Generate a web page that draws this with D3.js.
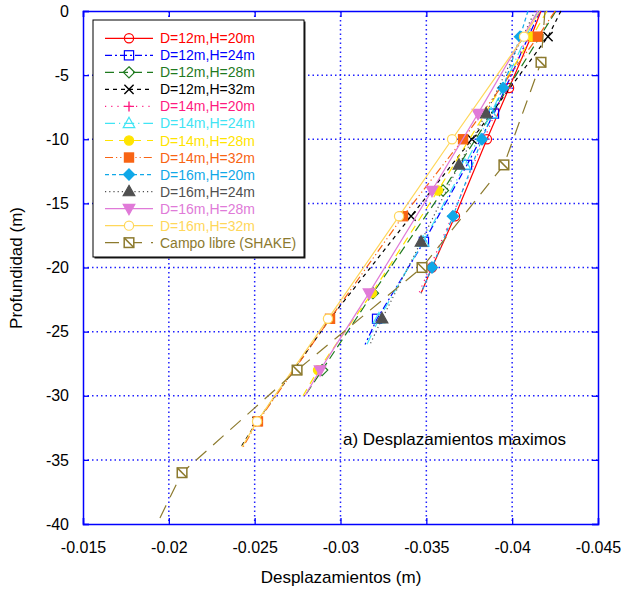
<!DOCTYPE html>
<html><head><meta charset="utf-8">
<script src="https://cdn.jsdelivr.net/npm/d3@7"></script>
<style>body{margin:0;background:#fff}svg{display:block;font-family:"Liberation Sans",Arial,sans-serif}</style>
</head><body><svg id="c" width="625" height="592"></svg>
<script>
// ---------- data ----------
const xTicks = [-0.015,-0.02,-0.025,-0.03,-0.035,-0.04,-0.045];
const xTickLabels = ["-0.015","-0.02","-0.025","-0.03","-0.035","-0.04","-0.045"];
const yTicks = [0,-5,-10,-15,-20,-25,-30,-35,-40];
const yTickLabels = ["0","-5","-10","-15","-20","-25","-30","-35","-40"];

const seriesNames = ["D=12m,H=20m","D=12m,H=24m","D=12m,H=28m","D=12m,H=32m","D=14m,H=20m","D=14m,H=24m","D=14m,H=28m","D=14m,H=32m","D=16m,H=20m","D=16m,H=24m","D=16m,H=28m","D=16m,H=32m","Campo libre (SHAKE)"];

const depth_D12H20 = [0,-2,-6,-10,-16,-20,-22];
const disp_D12H20  = [-0.04168,-0.04110,-0.03982,-0.03853,-0.03667,-0.03533,-0.03469];
const mark_D12H20  = [-2,-6,-10,-16,-20];

const depth_D12H24 = [0,-8,-12,-18,-24,-26];
const disp_D12H24  = [-0.04162,-0.03894,-0.03737,-0.03486,-0.03213,-0.03143];
const mark_D12H24  = [-8,-12,-18,-24];

const depth_D12H28 = [0,-6,-14,-22,-28,-30];
const disp_D12H28  = [-0.04255,-0.03976,-0.03597,-0.03189,-0.02893,-0.02793];
const mark_D12H28  = [-14,-22,-28];

const depth_D12H32 = [0,-2,-10,-16,-24,-32,-34];
const disp_D12H32  = [-0.04284,-0.04209,-0.03766,-0.03411,-0.02939,-0.02514,-0.02420];
const mark_D12H32  = [-2,-10,-16,-24,-32];

const depth_D14H20 = [0,-2,-6,-10,-16,-20,-22];
const disp_D14H20  = [-0.04145,-0.04086,-0.03964,-0.03836,-0.03650,-0.03521,-0.03457];
const mark_D14H20  = [-2,-6,-10,-16,-20];

const depth_D14H24 = [0,-8,-12,-18,-24,-26];
const disp_D14H24  = [-0.04150,-0.03877,-0.03725,-0.03481,-0.03224,-0.03154];
const mark_D14H24  = [-8,-12,-18,-24];

const depth_D14H28 = [0,-2,-14,-22,-28,-30];
const disp_D14H28  = [-0.04203,-0.04116,-0.03568,-0.03183,-0.02869,-0.02782];
const mark_D14H28  = [-2,-14,-22,-28];

const depth_D14H32 = [0,-2,-10,-16,-24,-32,-34];
const disp_D14H32  = [-0.04250,-0.04150,-0.03714,-0.03364,-0.02939,-0.02519,-0.02432];
const mark_D14H32  = [-2,-10,-16,-24,-32];

const depth_D16H20 = [0,-2,-6,-10,-16,-20,-22];
const disp_D16H20  = [-0.04092,-0.04046,-0.03947,-0.03824,-0.03655,-0.03533,-0.03469];
const mark_D16H20  = [-2,-6,-10,-16,-20];

const depth_D16H24 = [0,-8,-12,-18,-24,-26];
const disp_D16H24  = [-0.04133,-0.03848,-0.03690,-0.03469,-0.03242,-0.03172];
const mark_D16H24  = [-8,-12,-18,-24];

const depth_D16H28 = [0,-8,-14,-22,-28,-30];
const disp_D16H28  = [-0.04150,-0.03801,-0.03533,-0.03166,-0.02881,-0.02793];
const mark_D16H28  = [-8,-14,-22,-28];

const depth_D16H32 = [0,-2,-10,-16,-24,-32,-34];
const disp_D16H32  = [-0.04162,-0.04069,-0.03650,-0.03341,-0.02927,-0.02514,-0.02426];
const mark_D16H32  = [-2,-10,-16,-24,-32];

const depth_SHAKE = [0,-4,-12,-20,-28,-36,-40];
const disp_SHAKE  = [-0.04191,-0.04168,-0.03952,-0.03475,-0.02747,-0.02077,-0.01931];
const mark_SHAKE  = [-4,-12,-20,-28,-36];

// ---------- styles ----------
const styles = [
  {color:"#ff0000", dash:null,            marker:"circle",  fill:"none"},
  {color:"#0000ff", dash:"7,3,2,3",       marker:"square",  fill:"none"},
  {color:"#1f7a1f", dash:"9,5",           marker:"diamond", fill:"none"},
  {color:"#000000", dash:"4,4",           marker:"x",       fill:"none"},
  {color:"#ff1a80", dash:"1.2,5",         marker:"plus",    fill:"none"},
  {color:"#40e4f4", dash:"10,4,1.2,4",    marker:"triUp",   fill:"none"},
  {color:"#ffe400", dash:"8,6",           marker:"circle",  fill:"#ffe400"},
  {color:"#f86414", dash:"8,3,1.2,3,1.2,3", marker:"square", fill:"#f86414"},
  {color:"#10a8e8", dash:"4,3",           marker:"diamond", fill:"#10a8e8"},
  {color:"#505050", dash:"1.2,3",         marker:"triUp",   fill:"#505050"},
  {color:"#e07ad8", dash:null,            marker:"triDown", fill:"#e07ad8"},
  {color:"#ffd75a", dash:null,            marker:"circle",  fill:"#ffffff"},
  {color:"#8c7a2e", dash:"14,9",          marker:"sqdiag",  fill:"none"}
];
const depthArrs = [depth_D12H20,depth_D12H24,depth_D12H28,depth_D12H32,depth_D14H20,depth_D14H24,depth_D14H28,depth_D14H32,depth_D16H20,depth_D16H24,depth_D16H28,depth_D16H32,depth_SHAKE];
const dispArrs  = [disp_D12H20,disp_D12H24,disp_D12H28,disp_D12H32,disp_D14H20,disp_D14H24,disp_D14H28,disp_D14H32,disp_D16H20,disp_D16H24,disp_D16H28,disp_D16H32,disp_SHAKE];
const markArrs  = [mark_D12H20,mark_D12H24,mark_D12H28,mark_D12H32,mark_D14H20,mark_D14H24,mark_D14H28,mark_D14H32,mark_D16H20,mark_D16H24,mark_D16H28,mark_D16H32,mark_SHAKE];

// ---------- layout ----------
const L = 83, R = 598, T = 11, B = 524;
const x = d3.scaleLinear().domain([-0.015,-0.045]).range([L,R]);
const y = d3.scaleLinear().domain([0,-40]).range([T,B]);
const svg = d3.select("#c");
const frameColor = "#0000ff";

// grid
const grid = svg.append("g");
xTicks.slice(1,-1).forEach(t=>{
  grid.append("line").attr("x1",x(t)).attr("x2",x(t)).attr("y1",T).attr("y2",B)
    .attr("stroke","#2020ff").attr("stroke-width",1.5).attr("stroke-dasharray","1.5,3");
});
yTicks.slice(1,-1).forEach(t=>{
  grid.append("line").attr("y1",y(t)).attr("y2",y(t)).attr("x1",L).attr("x2",R)
    .attr("stroke","#2020ff").attr("stroke-width",1.5).attr("stroke-dasharray","1.5,3");
});

// axes via d3
const xAxisB = d3.axisBottom(x).tickValues(xTicks).tickFormat((d,i)=>xTickLabels[i]).tickSize(-6).tickPadding(18);
const gx = svg.append("g").attr("transform",`translate(0,${B})`).call(xAxisB);
gx.select(".domain").attr("stroke",frameColor).attr("stroke-width",1.5);
gx.selectAll(".tick line").attr("stroke",frameColor).attr("stroke-width",1.3);
gx.selectAll(".tick text").attr("font-size",16).attr("fill","#000").attr("font-family","Liberation Sans, Arial, sans-serif");

const xAxisT = d3.axisTop(x).tickValues(xTicks).tickFormat("").tickSize(-6);
const gxt = svg.append("g").attr("transform",`translate(0,${T})`).call(xAxisT);
gxt.select(".domain").attr("stroke",frameColor).attr("stroke-width",1.5);
gxt.selectAll(".tick line").attr("stroke",frameColor).attr("stroke-width",1.3);

const yAxisL = d3.axisLeft(y).tickValues(yTicks).tickFormat((d,i)=>yTickLabels[i]).tickSize(-6).tickPadding(14);
const gy = svg.append("g").attr("transform",`translate(${L},0)`).call(yAxisL);
gy.select(".domain").attr("stroke",frameColor).attr("stroke-width",1.5);
gy.selectAll(".tick line").attr("stroke",frameColor).attr("stroke-width",1.3);
gy.selectAll(".tick text").attr("font-size",16).attr("fill","#000").attr("font-family","Liberation Sans, Arial, sans-serif");

const yAxisR = d3.axisRight(y).tickValues(yTicks).tickFormat("").tickSize(-6);
const gyr = svg.append("g").attr("transform",`translate(${R},0)`).call(yAxisR);
gyr.select(".domain").attr("stroke",frameColor).attr("stroke-width",1.5);
gyr.selectAll(".tick line").attr("stroke",frameColor).attr("stroke-width",1.3);

// titles
svg.append("text").attr("x",341).attr("y",583).attr("text-anchor","middle").attr("font-size",17).text("Desplazamientos (m)");
svg.append("text").attr("transform","translate(22,268) rotate(-90)").attr("text-anchor","middle").attr("font-size",17).text("Profundidad (m)");
svg.append("text").attr("x",343).attr("y",445).attr("font-size",17).text("a) Desplazamientos maximos");

// marker drawer
function drawMarker(g, type, cx, cy, color, fill){
  const sw = 1.2;
  if(type==="circle"){
    g.append("circle").attr("cx",cx).attr("cy",cy).attr("r",4.6).attr("fill",fill).attr("stroke",color).attr("stroke-width",sw);
  } else if(type==="square"){
    g.append("rect").attr("x",cx-4.6).attr("y",cy-4.6).attr("width",9.2).attr("height",9.2).attr("fill",fill).attr("stroke",color).attr("stroke-width",sw);
  } else if(type==="diamond"){
    g.append("path").attr("d",`M${cx},${cy-5.6}L${cx+5.6},${cy}L${cx},${cy+5.6}L${cx-5.6},${cy}Z`).attr("fill",fill).attr("stroke",color).attr("stroke-width",sw);
  } else if(type==="x"){
    g.append("path").attr("d",`M${cx-4.6},${cy-4.6}L${cx+4.6},${cy+4.6}M${cx-4.6},${cy+4.6}L${cx+4.6},${cy-4.6}`).attr("stroke",color).attr("stroke-width",1.4).attr("fill","none");
  } else if(type==="plus"){
    g.append("path").attr("d",`M${cx-5},${cy}L${cx+5},${cy}M${cx},${cy-5}L${cx},${cy+5}`).attr("stroke",color).attr("stroke-width",1.4).attr("fill","none");
  } else if(type==="triUp"){
    g.append("path").attr("d",`M${cx},${cy-6.2}L${cx+5.8},${cy+4.2}L${cx-5.8},${cy+4.2}Z`).attr("fill",fill).attr("stroke",color).attr("stroke-width",sw);
  } else if(type==="triDown"){
    g.append("path").attr("d",`M${cx},${cy+6.2}L${cx+5.8},${cy-4.2}L${cx-5.8},${cy-4.2}Z`).attr("fill",fill).attr("stroke",color).attr("stroke-width",sw);
  } else if(type==="sqdiag"){
    g.append("rect").attr("x",cx-4.8).attr("y",cy-4.8).attr("width",9.6).attr("height",9.6).attr("fill","#fff").attr("stroke",color).attr("stroke-width",1.5);
    g.append("line").attr("x1",cx-4.8).attr("y1",cy-4.8).attr("x2",cx+4.8).attr("y2",cy+4.8).attr("stroke",color).attr("stroke-width",1.5);
  }
}

// series
const plotG = svg.append("g");
const line = d3.line().x(d=>x(d.v)).y(d=>y(d.d));
seriesNames.forEach((name,i)=>{
  const st = styles[i];
  const pts = depthArrs[i].map((d,j)=>({d:d, v:dispArrs[i][j]}));
  const g = plotG.append("g");
  g.append("path").datum(pts).attr("d",line).attr("fill","none").attr("stroke",st.color)
    .attr("stroke-width",1.2).attr("stroke-dasharray",st.dash);
  markArrs[i].forEach(md=>{
    const p = pts.find(q=>q.d===md);
    if(p) drawMarker(g, st.marker, x(p.v), y(p.d), st.color, st.fill);
  });
});

// legend
const lg = svg.append("g");
const lx0 = 93, ly0 = 20, lw = 211, lh = 237;
lg.append("rect").attr("x",lx0+1.5).attr("y",ly0+1.5).attr("width",lw).attr("height",lh).attr("fill","#222");
lg.append("rect").attr("x",lx0).attr("y",ly0).attr("width",lw).attr("height",lh).attr("fill","#fff").attr("stroke","#000").attr("stroke-width",1);
seriesNames.forEach((name,i)=>{
  const st = styles[i];
  const cy = 38.3 + i*17.03;
  lg.append("line").attr("x1",105).attr("x2",153).attr("y1",cy).attr("y2",cy)
    .attr("stroke",st.color).attr("stroke-width",1.2).attr("stroke-dasharray",st.dash);
  drawMarker(lg, st.marker, 129, cy, st.color, st.fill);
  lg.append("text").attr("x",160).attr("y",cy).attr("dy","0.36em").attr("font-size",14).attr("fill",st.color).text(name);
});
</script>
</body></html>
